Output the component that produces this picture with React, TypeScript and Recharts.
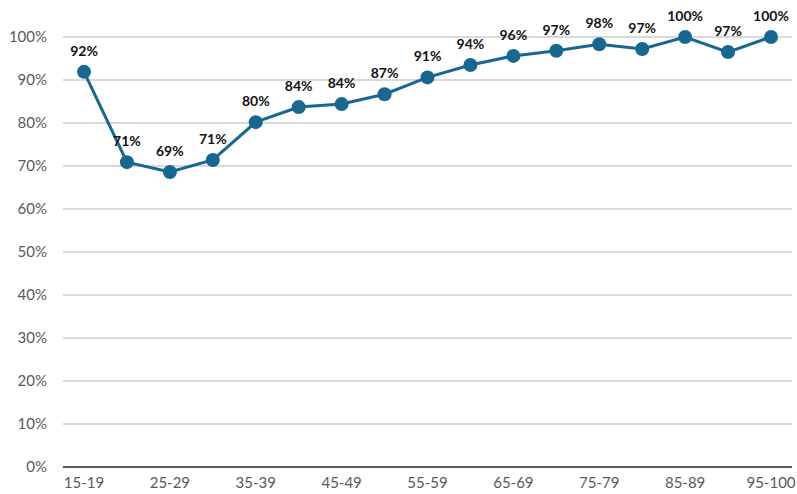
import { LineChart, Line, XAxis, YAxis, CartesianGrid, LabelList } from "recharts";

const ageGroups = [
  "15-19", "20-24", "25-29", "30-34", "35-39", "40-44", "45-49", "50-54", "55-59",
  "60-64", "65-69", "70-74", "75-79", "80-84", "85-89", "90-94", "95-100",
];
const shares = [91.9, 70.9, 68.6, 71.4, 80.2, 83.7, 84.4, 86.7, 90.6, 93.5, 95.6, 96.8, 98.3, 97.2, 100, 96.5, 100];
const yTicks = [0, 10, 20, 30, 40, 50, 60, 70, 80, 90, 100];

const data = ageGroups.map((age, i) => ({ age, share: shares[i] }));

const FONT = "Lato, 'Open Sans', sans-serif";
const BLUE = "#176891";

const PointLabel = (props: any) => {
  const { x, y, value } = props;
  return (
    <text x={x} y={y - 16} textAnchor="middle" fontSize={14} fontWeight={700} fill="#111" fontFamily={FONT}>
      {Math.round(value)}%
    </text>
  );
};

export default function App() {
  return (
    <div style={{ position: "absolute", left: 0, top: 0, width: 797, height: 494, background: "#fff" }}>
      <LineChart width={797} height={494} data={data} margin={{ top: 37, right: 5, bottom: 0, left: 0 }}>
        <CartesianGrid vertical={false} stroke="#d9d9d9" strokeWidth={2} />
        <XAxis
          dataKey="age"
          interval={1}
          height={27}
          padding={{ left: 21, right: 21 }}
          tickLine={false}
          axisLine={{ stroke: "#595959", strokeWidth: 2 }}
          tick={{ fill: "#595959", fontSize: 15, fontFamily: FONT }}
          tickMargin={4}
        />
        <YAxis
          width={63}
          domain={[0, 100]}
          ticks={yTicks}
          axisLine={false}
          tickLine={false}
          tickFormatter={(v) => `${v}%`}
          tick={{ fill: "#595959", fontSize: 15, fontFamily: FONT }}
          tickMargin={10}
        />
        <Line
          type="linear"
          dataKey="share"
          stroke={BLUE}
          strokeWidth={3}
          dot={{ r: 7, fill: BLUE, stroke: BLUE, strokeWidth: 0 }}
          isAnimationActive={false}
        >
          <LabelList dataKey="share" content={PointLabel} />
        </Line>
      </LineChart>
    </div>
  );
}
